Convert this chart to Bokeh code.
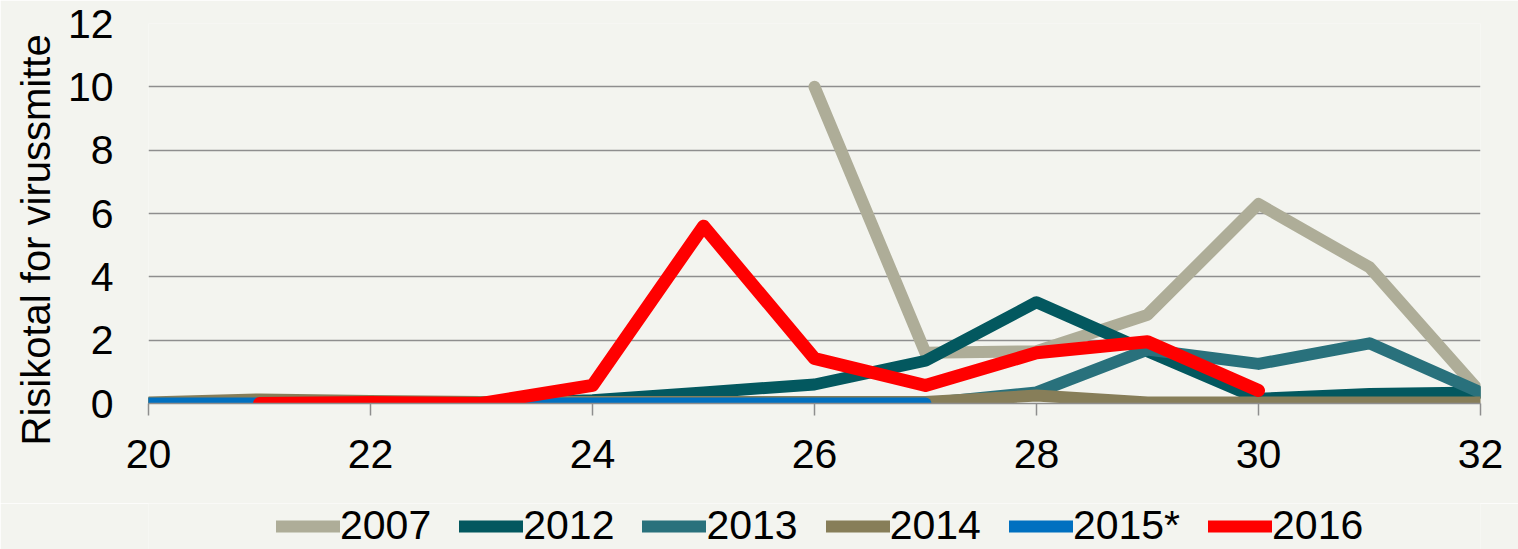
from bokeh.plotting import figure
from bokeh.layouts import column
from bokeh.models import Legend, LegendItem, Range1d, FixedTicker, Title
from bokeh.embed import file_html
from bokeh.resources import INLINE

# ---- data (week number -> risk number) ----
weeks_2007 = [26, 27, 28, 29, 30, 31, 32]
risk_2007 = [10.0, 1.6, 1.65, 2.8, 6.3, 4.3, 0.35]

weeks_all = [20, 21, 22, 23, 24, 25, 26, 27, 28, 29, 30, 31, 32]
risk_2012 = [0, 0, 0, 0, 0.1, 0.35, 0.6, 1.35, 3.2, 1.65, 0.15, 0.3, 0.35]
risk_2013 = [0, 0, 0, 0, 0, 0, 0, 0, 0.35, 1.7, 1.25, 1.9, 0.35]
risk_2014 = [0.03, 0.13, 0.08, 0.05, 0.05, 0.05, 0.05, 0.05, 0.25, 0.03, 0.03, 0.03, 0.03]

weeks_2015 = [20, 21, 22, 23, 24, 25, 26, 27]
risk_2015 = [0, 0, 0, 0, 0, 0, 0, 0]

weeks_2016 = [21, 22, 23, 24, 25, 26, 27, 28, 29, 30]
risk_2016 = [0, 0.03, 0, 0.57, 5.6, 1.42, 0.57, 1.6, 1.95, 0.41]

series_names = ["2007", "2012", "2013", "2014", "2015*", "2016"]
series_colors = ["#AEAD98", "#03585F", "#29717C", "#877E59", "#0070C0", "#FF0000"]
x_ticks = [20, 22, 24, 26, 28, 30, 32]
y_ticks = [0, 2, 4, 6, 8, 10, 12]
y_title = "Risikotal for virussmitte"

BG = "#F3F4EF"
GRID = "#8E8E8E"
FONT = "Liberation Sans"

# ---------------- main chart ----------------
p = figure(width=1518, height=503, x_range=Range1d(20, 32), y_range=Range1d(0, 12),
           output_backend="svg", toolbar_location=None,
           min_border_left=148, min_border_right=38, min_border_top=23, min_border_bottom=100,
           background_fill_color=BG, border_fill_color=BG, outline_line_color=None)

p.xgrid.grid_line_color = None
p.ygrid.ticker = FixedTicker(ticks=y_ticks)
p.ygrid.grid_line_color = GRID
p.ygrid.grid_line_width = 1.5

p.xaxis.ticker = FixedTicker(ticks=x_ticks)
p.xaxis.axis_line_color = GRID
p.xaxis.axis_line_width = 1.5
p.xaxis.major_tick_line_color = GRID
p.xaxis.major_tick_line_width = 1.5
p.xaxis.major_tick_out = 12
p.xaxis.major_tick_in = 0
p.xaxis.minor_tick_line_color = None
p.xaxis.major_label_standoff = 24
p.xaxis.major_label_text_font = FONT
p.xaxis.major_label_text_font_size = "41px"
p.xaxis.major_label_text_color = "#000000"

p.yaxis.ticker = FixedTicker(ticks=y_ticks)
p.yaxis.axis_line_color = None
p.yaxis.major_tick_line_color = None
p.yaxis.minor_tick_line_color = None
p.yaxis.major_tick_out = 0
p.yaxis.major_tick_in = 0
p.yaxis.major_label_standoff = 35
p.yaxis.major_label_text_font = FONT
p.yaxis.major_label_text_font_size = "41px"
p.yaxis.major_label_text_color = "#000000"

# vertical axis title (starts a little below the frame bottom, like the reference)
p.add_layout(Title(text=y_title, align="left", offset=-42, standoff=13,
                   text_font=FONT, text_font_size="40px", text_font_style="normal",
                   text_color="#000000"), "left")

xs = [weeks_2007, weeks_all, weeks_all, weeks_all, weeks_2015, weeks_2016]
ys = [risk_2007, risk_2012, risk_2013, risk_2014, risk_2015, risk_2016]
widths = [12, 12, 12, 12, 12, 13]

for color, x, y, w in zip(series_colors, xs, ys, widths):
    p.line(x, y, line_color=color, line_width=w, line_cap="round", line_join="round")

# ---------------- legend strip below the chart ----------------
# (its frame is aligned with the chart's frame by the column layout)
leg = figure(width=1518, height=46, x_range=Range1d(0, 1), y_range=Range1d(0, 1),
             output_backend="svg", toolbar_location=None,
             x_axis_location=None, y_axis_location=None, min_border=0,
             background_fill_color=BG, border_fill_color=BG, outline_line_color=None)
leg.xgrid.visible = False
leg.ygrid.visible = False

items = []
for name, color in zip(series_names, series_colors):
    # legend-key renderer kept outside the visible range of the strip
    r = leg.line(x=[0, 1], y=[-5, -5], line_color=color, line_width=12, line_cap="round")
    items.append(LegendItem(label=name, renderers=[r]))

legend = Legend(items=items, location=(128, 0), orientation="horizontal",
                glyph_width=64, glyph_height=20, label_standoff=0, spacing=28,
                padding=0, margin=0, label_text_font=FONT, label_text_font_size="41px",
                label_text_color="#000000", label_height=40,
                background_fill_alpha=0, border_line_color=None)
leg.add_layout(legend, "center")

open("out.html", "w").write(file_html(column(p, leg, spacing=0), INLINE))
